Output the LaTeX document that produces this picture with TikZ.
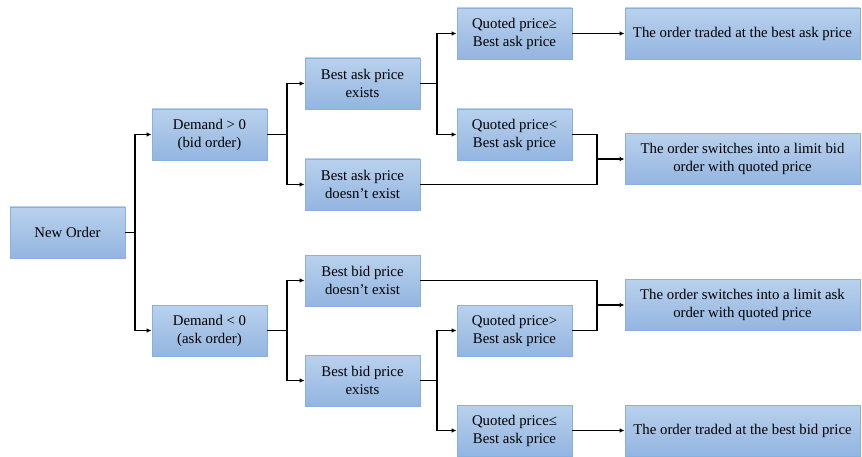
\documentclass[tikz,border=0pt]{standalone}
\usepackage{fontspec}
\setmainfont{Liberation Serif}
\usetikzlibrary{arrows.meta, positioning}
\definecolor{boxtop}{HTML}{B9D1ED}
\definecolor{boxbot}{HTML}{93B5E0}
\definecolor{boxline}{HTML}{8AB0DF}
\tikzset{
    stepbox/.style={rectangle, draw=boxline, line width=0.8pt, top color=boxtop, bottom color=boxbot, minimum width=115pt, minimum height=51pt, inner sep=2pt, align=center, font=\fontsize{14.8}{18}\selectfont},
    outbox/.style={stepbox, minimum width=235pt},
    link/.style={line width=1.3pt, draw=black},
    arrow/.style={link, -{Latex[length=5pt,width=4.5pt]}}
}
\begin{document}
\begin{tikzpicture}[x=1pt, y=-1pt]
    \useasboundingbox (0,0) rectangle (862,457);

    % Nodes
    \node (neworder) [stepbox] at (67.5,232.5) {New Order};
    \node (dempos) [stepbox] at (209.5,134.5) {Demand > 0\\(bid order)};
    \node (demneg) [stepbox] at (209.5,330.5) {Demand < 0\\(ask order)};
    \node (askyes) [stepbox] at (362.5,83.5) {Best ask price\\exists};
    \node (askno) [stepbox] at (362.5,184.5) {Best ask price\\doesn’t exist};
    \node (bidno) [stepbox] at (362.5,280.5) {Best bid price\\doesn’t exist};
    \node (bidyes) [stepbox] at (362.5,380.5) {Best bid price\\exists};
    \node (qge) [stepbox] at (514.5,33.5) {Quoted price≥\\Best ask price};
    \node (qlt) [stepbox] at (514.5,134.5) {Quoted price<\\Best ask price};
    \node (qgt) [stepbox] at (514.5,330.5) {Quoted price>\\Best ask price};
    \node (qle) [stepbox] at (514.5,430.5) {Quoted price≤\\Best ask price};
    \node (tradeask) [outbox] at (742.5,33.5) {The order traded at the best ask price};
    \node (limbid) [outbox] at (742.5,159) {The order switches into a limit bid\\order with quoted price};
    \node (limask) [outbox] at (742.5,305) {The order switches into a limit ask\\order with quoted price};
    \node (tradebid) [outbox] at (742.5,430.5) {The order traded at the best bid price};

    % Branch points
    \coordinate (j0) at (135,232.5);
    \coordinate (j1) at (287,134.5);
    \coordinate (j2) at (287,330.5);
    \coordinate (j3) at (437,83.5);
    \coordinate (j4) at (437,380.5);
    \coordinate (m1) at (597,159);
    \coordinate (m2) at (597,305);

    % Connections
    \draw [link] (neworder.east) -- (j0);
    \draw [arrow] (j0) |- (dempos.west);
    \draw [arrow] (j0) |- (demneg.west);
    \draw [link] (dempos.east) -- (j1);
    \draw [arrow] (j1) |- (askyes.west);
    \draw [arrow] (j1) |- (askno.west);
    \draw [link] (demneg.east) -- (j2);
    \draw [arrow] (j2) |- (bidno.west);
    \draw [arrow] (j2) |- (bidyes.west);
    \draw [link] (askyes.east) -- (j3);
    \draw [arrow] (j3) |- (qge.west);
    \draw [arrow] (j3) |- (qlt.west);
    \draw [link] (bidyes.east) -- (j4);
    \draw [arrow] (j4) |- (qgt.west);
    \draw [arrow] (j4) |- (qle.west);
    \draw [arrow] (qge.east) -- (tradeask.west);
    \draw [arrow] (qle.east) -- (tradebid.west);
    \draw [link] (qlt.east) -| (m1);
    \draw [link] (askno.east) -| (m1);
    \draw [arrow] (m1) -- (limbid.west);
    \draw [link] (bidno.east) -| (m2);
    \draw [link] (qgt.east) -| (m2);
    \draw [arrow] (m2) -- (limask.west);

\end{tikzpicture}
\end{document}
